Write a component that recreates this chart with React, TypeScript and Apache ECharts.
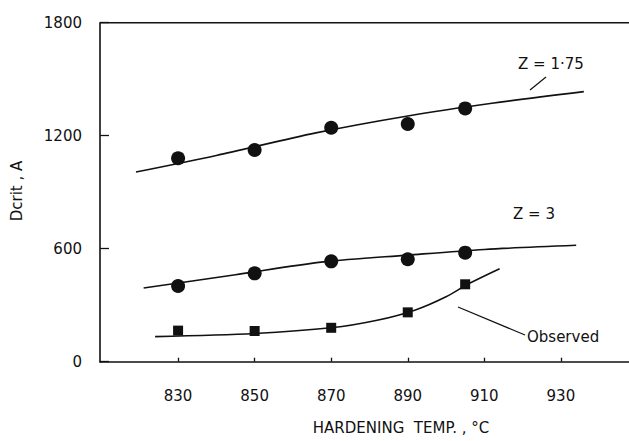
import React, { useEffect, useRef } from "react";
import * as echarts from "echarts";

const xTicks = [830, 850, 870, 890, 910, 930];
const yTicks = [0, 600, 1200, 1800];

const tempsZ175 = [830, 850, 870, 890, 905];
const pointsZ175 = [1080, 1124, 1242, 1262, 1345];
const curveZ175: [number, number][] = [
  [819, 1007], [840, 1095], [866, 1215], [890, 1305], [912, 1372], [936, 1434],
];

const tempsZ3 = [830, 850, 870, 890, 905];
const pointsZ3 = [402, 469, 533, 544, 579];
const curveZ3: [number, number][] = [
  [821, 391], [845, 462], [868, 530], [890, 566], [910, 596], [934, 618],
];

const tempsObs = [830, 850, 870, 890, 905];
const pointsObs = [165, 163, 180, 262, 411];
const curveObs: [number, number][] = [
  [824, 133], [850, 150], [870, 180], [882, 220], [892, 275], [900, 345], [906, 415], [914, 494],
];

const FONT = "'DejaVu Sans', sans-serif";
const INK = "#111";

export default function App() {
  const ref = useRef<HTMLDivElement>(null);
  useEffect(() => {
    if (!ref.current) return;
    const chart = echarts.init(ref.current, undefined, { renderer: "svg" });
    const lineSeries = (data: [number, number][]) => ({
      type: "line",
      data,
      showSymbol: false,
      smooth: 0.3,
      lineStyle: { color: INK, width: 1.6 },
      z: 2,
    });
    const pts = (xs: number[], ys: number[]) => xs.map((x, i) => [x, ys[i]]);
    chart.setOption({
      animation: false,
      backgroundColor: "#fff",
      grid: { left: 100, right: 0, top: 22.7, bottom: 79.3, containLabel: false },
      xAxis: {
        type: "value",
        min: 809.6,
        max: 947.8,
        axisLine: { show: true, lineStyle: { color: INK, width: 1.6 } },
        axisTick: { show: true, inside: true, length: 4, customValues: xTicks, lineStyle: { color: INK, width: 1.3 } },
        axisLabel: { customValues: xTicks, margin: 27, fontFamily: FONT, fontSize: 15, color: INK, formatter: (v: number) => String(v) },
        splitLine: { show: false },
      },
      yAxis: {
        type: "value",
        min: 0,
        max: 1800,
        interval: 600,
        axisLine: { show: true, lineStyle: { color: INK, width: 1.6 } },
        axisTick: { show: true, inside: true, length: 9, lineStyle: { color: INK, width: 1.3 } },
        axisLabel: { margin: 18, fontFamily: FONT, fontSize: 15, color: INK, customValues: yTicks, formatter: (v: number) => String(v) },
        splitLine: { show: false },
      },
      graphic: [
        { type: "line", shape: { x1: 100, y1: 22.7, x2: 629, y2: 22.7 }, style: { stroke: INK, lineWidth: 1.6 } },
        { type: "text", x: 518, y: 64, style: { text: "Z = 1·75", font: `15px ${FONT}`, fill: INK, verticalAlign: "middle" } },
        { type: "line", shape: { x1: 530, y1: 90, x2: 546, y2: 77 }, style: { stroke: INK, lineWidth: 1.2 } },
        { type: "text", x: 513, y: 214, style: { text: "Z = 3", font: `15px ${FONT}`, fill: INK, verticalAlign: "middle" } },
        { type: "text", x: 527, y: 337, style: { text: "Observed", font: `15px ${FONT}`, fill: INK, verticalAlign: "middle" } },
        { type: "line", shape: { x1: 458, y1: 307, x2: 525, y2: 335 }, style: { stroke: INK, lineWidth: 1.2 } },
        { type: "text", x: 401, y: 428, style: { text: "HARDENING  TEMP. , °C", font: `15px ${FONT}`, fill: INK, align: "center", verticalAlign: "middle" } },
        { type: "text", x: 17, y: 191, rotation: Math.PI / 2, style: { text: "Dcrit , A", font: `15px ${FONT}`, fill: INK, align: "center", verticalAlign: "middle" } },
      ],
      series: [
        lineSeries(curveZ175),
        lineSeries(curveZ3),
        lineSeries(curveObs),
        { type: "scatter", data: pts(tempsZ175, pointsZ175), symbol: "circle", symbolSize: 14, itemStyle: { color: INK, opacity: 1 }, z: 3 },
        { type: "scatter", data: pts(tempsZ3, pointsZ3), symbol: "circle", symbolSize: 14, itemStyle: { color: INK, opacity: 1 }, z: 3 },
        { type: "scatter", data: pts(tempsObs, pointsObs), symbol: "rect", symbolSize: 10, itemStyle: { color: INK, opacity: 1 }, z: 3 },
      ],
    });
    return () => chart.dispose();
  }, []);
  return (
    <div
      ref={ref}
      style={{ position: "absolute", left: 0, top: 0, width: 629, height: 441 }}
    />
  );
}
